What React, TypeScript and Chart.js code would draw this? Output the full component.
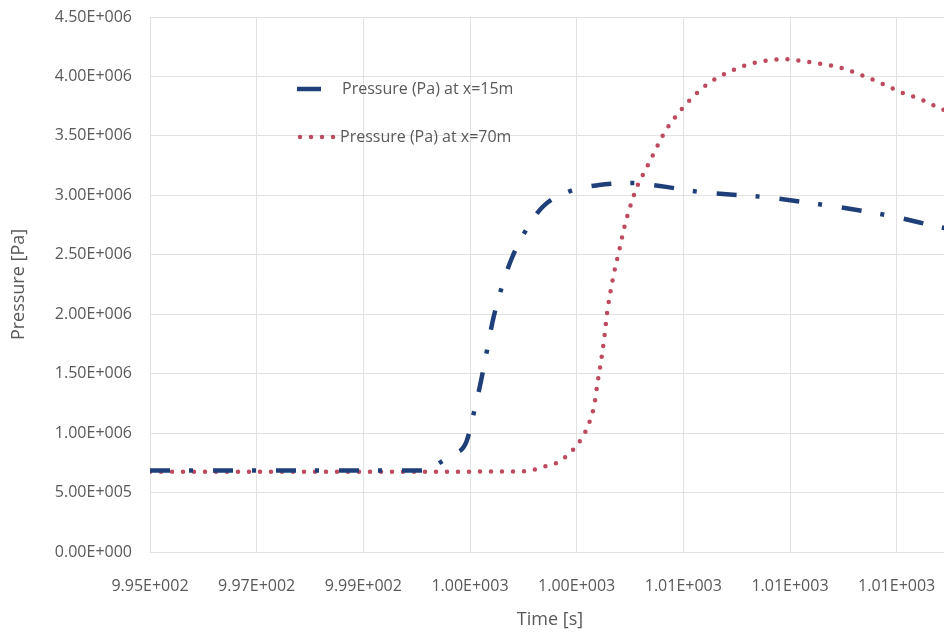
import React, { useEffect, useRef } from "react";
import { Chart, registerables } from "chart.js";

Chart.register(...registerables);

// Time [s] and pressure [Pa] at x = 15 m
const time15 = [
  995.0, 996.0, 997.0, 998.0, 999.0, 1000.0, 1000.2, 1000.41, 1000.65, 1000.93,
  1001.08, 1001.21, 1001.32, 1001.43, 1001.58, 1001.77, 1002.03, 1002.36, 1002.83,
  1003.42, 1004.0, 1004.56, 1005.31, 1006.5, 1007.64, 1008.79, 1009.8, 1010.0,
];
const pressure15 = [
  6.85e5, 6.85e5, 6.85e5, 6.85e5, 6.85e5, 6.85e5, 6.9e5, 7.45e5, 8.16e5, 9.25e5,
  1.186e6, 1.447e6, 1.699e6, 1.951e6, 2.204e6, 2.456e6, 2.692e6, 2.902e6, 3.028e6,
  3.087e6, 3.104e6, 3.078e6, 3.028e6, 2.986e6, 2.919e6, 2.835e6, 2.734e6, 2.715e6,
];

// Time [s] and pressure [Pa] at x = 70 m
const time70 = [
  995.0, 996.0, 997.0, 998.0, 999.0, 1000.0, 1001.0, 1002.0, 1002.27, 1002.49,
  1002.68, 1002.87, 1003.01, 1003.2, 1003.33, 1003.39, 1003.44, 1003.52, 1003.57,
  1003.63, 1003.7, 1003.8, 1003.89, 1004.0, 1004.13, 1004.26, 1004.45, 1004.64,
  1004.88, 1005.16, 1005.48, 1005.85, 1006.24, 1006.65, 1006.87, 1007.08, 1007.49,
  1007.9, 1008.29, 1008.7, 1009.07, 1009.48, 1009.8, 1010.0,
];
const pressure70 = [
  6.75e5, 6.75e5, 6.75e5, 6.75e5, 6.75e5, 6.75e5, 6.76e5, 6.8e5, 7.0e5, 7.32e5,
  7.6e5, 8.33e5, 9.0e5, 1.05e6, 1.236e6, 1.42e6, 1.556e6, 1.808e6, 2.01e6,
  2.178e6, 2.347e6, 2.54e6, 2.725e6, 2.9e6, 3.07e6, 3.188e6, 3.356e6, 3.524e6,
  3.676e6, 3.819e6, 3.945e6, 4.037e6, 4.105e6, 4.138e6, 4.147e6, 4.138e6, 4.113e6,
  4.079e6, 4.02e6, 3.945e6, 3.869e6, 3.802e6, 3.735e6, 3.7e6,
];

const seriesLabels = ["Pressure (Pa) at x=15m", "Pressure (Pa) at x=70m"];
const xTicks = [995, 997, 999, 1001, 1003, 1005, 1007, 1009];
const yTicks = [0, 5e5, 1e6, 1.5e6, 2e6, 2.5e6, 3e6, 3.5e6, 4e6, 4.5e6];

const BLUE = "#1f3f78";
const RED = "#bd4a5e";
const TEXT = "#595959";
const GRID = "#e2e2e2";
const FONT = "'Open Sans', sans-serif";

function sci(v: number): string {
  const s = Number(v).toExponential(2); // e.g. 9.95e+2
  const m = s.match(/^(-?[\d.]+)e([+-])(\d+)$/);
  if (!m) return s;
  return `${m[1]}E${m[2]}${m[3].padStart(3, "0")}`;
}

const legendPlugin = {
  id: "customLegend",
  afterDatasetsDraw(chart: any) {
    const ctx = chart.ctx;
    ctx.save();
    ctx.font = `16px ${FONT}`;
    ctx.fillStyle = TEXT;
    ctx.textBaseline = "middle";
    ctx.textAlign = "left";
    // item 1
    ctx.beginPath();
    ctx.strokeStyle = BLUE;
    ctx.lineWidth = 4.5;
    ctx.lineCap = "butt";
    ctx.setLineDash([]);
    ctx.moveTo(297, 89);
    ctx.lineTo(321, 89);
    ctx.stroke();
    ctx.fillText(seriesLabels[0], 342, 89);
    // item 2
    ctx.beginPath();
    ctx.strokeStyle = RED;
    ctx.lineWidth = 4.5;
    ctx.lineCap = "round";
    ctx.setLineDash([0, 11]);
    ctx.moveTo(300, 137);
    ctx.lineTo(336, 137);
    ctx.stroke();
    ctx.setLineDash([]);
    ctx.fillText(seriesLabels[1], 340, 137);
    ctx.restore();
  },
};

export default function App() {
  const ref = useRef<HTMLCanvasElement | null>(null);

  useEffect(() => {
    if (!ref.current) return;
    const chart = new Chart(ref.current, {
      type: "line",
      data: {
        datasets: [
          {
            label: seriesLabels[0],
            data: time15.map((t, i) => ({ x: t, y: pressure15[i] })),
            borderColor: BLUE,
            borderWidth: 4.5,
            borderDash: [20, 19, 4, 20],
            borderCapStyle: "butt",
            pointRadius: 0,
            cubicInterpolationMode: "monotone",
            fill: false,
          },
          {
            label: seriesLabels[1],
            data: time70.map((t, i) => ({ x: t, y: pressure70[i] })),
            borderColor: RED,
            borderWidth: 4.5,
            borderDash: [0, 11],
            borderCapStyle: "round",
            pointRadius: 0,
            cubicInterpolationMode: "monotone",
            fill: false,
          },
        ],
      },
      options: {
        responsive: false,
        animation: false,
        layout: { padding: { top: 17, right: 15, left: 0, bottom: 0 } },
        plugins: {
          legend: { display: false },
          tooltip: { enabled: false },
        },
        scales: {
          x: {
            type: "linear",
            min: 995,
            max: 1010,
            afterBuildTicks: (scale: any) => {
              scale.ticks = xTicks.map((v) => ({ value: v }));
            },
            afterFit: (scale: any) => {
              scale.height = 85;
              scale.paddingLeft = 0;
              scale.paddingRight = 0;
            },
            grid: { color: GRID, drawTicks: false, lineWidth: 1 },
            border: { display: false },
            ticks: {
              color: TEXT,
              font: { family: FONT, size: 16 },
              padding: 25,
              maxRotation: 0,
              autoSkip: false,
              callback: (v: any) => sci(Number(v)),
            },
            title: {
              display: true,
              text: "Time [s]",
              color: TEXT,
              font: { family: FONT, size: 18 },
              padding: { top: 0, bottom: 6 },
            },
          },
          y: {
            type: "linear",
            min: 0,
            max: 4.5e6,
            afterBuildTicks: (scale: any) => {
              scale.ticks = yTicks.map((v) => ({ value: v }));
            },
            afterFit: (scale: any) => {
              scale.width = 150;
              scale.paddingTop = 0;
              scale.paddingBottom = 0;
            },
            grid: { color: GRID, drawTicks: false, lineWidth: 1 },
            border: { display: false },
            ticks: {
              color: TEXT,
              font: { family: FONT, size: 16 },
              padding: 18,
              callback: (v: any) => sci(Number(v)),
            },
            title: {
              display: true,
              text: "Pressure [Pa]",
              color: TEXT,
              font: { family: FONT, size: 18 },
              padding: { top: 8, bottom: 0 },
            },
          },
        },
      },
      plugins: [legendPlugin],
    } as any);
    return () => chart.destroy();
  }, []);

  return (
    <div
      style={{
        position: "fixed",
        left: 0,
        top: 0,
        width: 944,
        height: 637,
        overflow: "hidden",
        background: "#fff",
      }}
    >
      <canvas ref={ref} width={965} height={637} style={{ display: "block" }} />
    </div>
  );
}
